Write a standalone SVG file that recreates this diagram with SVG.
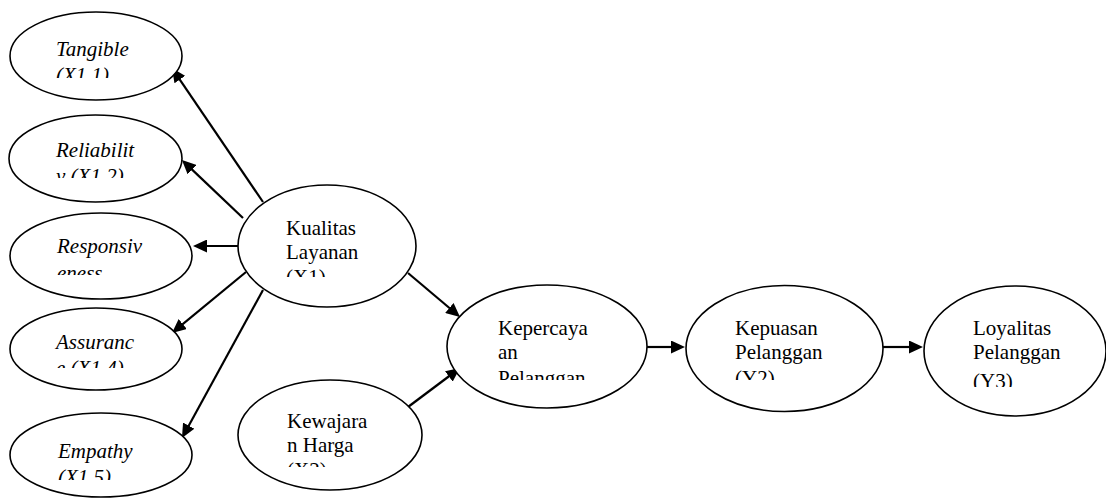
<svg xmlns="http://www.w3.org/2000/svg" width="1106" height="498" viewBox="0 0 1106 498">
<style>
.node ellipse{fill:#fff;stroke:#000;stroke-width:1.6}
text{font-family:'Liberation Serif','Tinos','DejaVu Serif',serif;font-size:21px;fill:#000}
.i{font-style:italic}
.conn line{stroke:#000;stroke-width:2.2;fill:none}
</style>
<defs>
<marker id="ah" markerUnits="userSpaceOnUse" markerWidth="15" markerHeight="13" refX="4" refY="6.5" orient="auto">
<path d="M0,0 L14,6.5 L0,13 z" fill="#000"/>
</marker>
<clipPath id="c1"><rect x="0" y="0" width="300" height="78"/></clipPath>
<clipPath id="c2"><rect x="0" y="100" width="300" height="78"/></clipPath>
<clipPath id="c3"><rect x="0" y="200" width="300" height="75"/></clipPath>
<clipPath id="c4"><rect x="0" y="300" width="300" height="68"/></clipPath>
<clipPath id="c5"><rect x="0" y="400" width="300" height="80"/></clipPath>
<clipPath id="c6"><rect x="230" y="180" width="200" height="97"/></clipPath>
<clipPath id="c7"><rect x="230" y="380" width="200" height="87"/></clipPath>
<clipPath id="c8"><rect x="440" y="280" width="220" height="100"/></clipPath>
<clipPath id="c9"><rect x="680" y="280" width="220" height="100"/></clipPath>
<clipPath id="c10"><rect x="920" y="280" width="186" height="107"/></clipPath>
</defs>
<g class="conn" id="connectors">
<line x1="263" y1="202" x2="177.6" y2="76.3" marker-end="url(#ah)"/>
<line x1="243" y1="218" x2="189.2" y2="166.9" marker-end="url(#ah)"/>
<line x1="238" y1="246" x2="203" y2="246" marker-end="url(#ah)"/>
<line x1="246" y1="272" x2="179.7" y2="326.6" marker-end="url(#ah)"/>
<line x1="263" y1="290" x2="186.8" y2="429.2" marker-end="url(#ah)"/>
<line x1="408" y1="273" x2="452.4" y2="310.5" marker-end="url(#ah)"/>
<line x1="408" y1="407" x2="452" y2="374" marker-end="url(#ah)"/>
<line x1="647" y1="347" x2="675" y2="347" marker-end="url(#ah)"/>
<line x1="883" y1="347" x2="913" y2="347" marker-end="url(#ah)"/>
</g>
<g class="node" id="tangible">
<ellipse cx="96" cy="56" rx="86" ry="44"/>
<text class="i" font-family="Liberation Serif, serif" clip-path="url(#c1)"><tspan x="56" y="55.5">Tangible</tspan><tspan x="56" y="81.5">(X1.1)</tspan></text>
</g>
<g class="node" id="reliability">
<ellipse cx="95.5" cy="158.5" rx="86.5" ry="43.5"/>
<text class="i" font-family="Liberation Serif, serif" clip-path="url(#c2)"><tspan x="56" y="157">Reliabilit</tspan><tspan x="56" y="183">y (X1.2)</tspan></text>
</g>
<g class="node" id="responsiveness">
<ellipse cx="101" cy="256" rx="91" ry="43"/>
<text class="i" font-family="Liberation Serif, serif" clip-path="url(#c3)"><tspan x="57" y="253">Responsiv</tspan><tspan x="57" y="279.5">eness</tspan></text>
</g>
<g class="node" id="assurance">
<ellipse cx="96" cy="349" rx="86" ry="41"/>
<text class="i" font-family="Liberation Serif, serif" clip-path="url(#c4)"><tspan x="56" y="348.5">Assuranc</tspan><tspan x="56" y="374.5">e (X1.4)</tspan></text>
</g>
<g class="node" id="empathy">
<ellipse cx="101" cy="455" rx="91" ry="42"/>
<text class="i" font-family="Liberation Serif, serif" clip-path="url(#c5)"><tspan x="58" y="457.5">Empathy</tspan><tspan x="58" y="484">(X1.5)</tspan></text>
</g>
<g class="node" id="kualitas">
<ellipse cx="327" cy="246" rx="89" ry="61"/>
<text font-family="Liberation Serif, serif" clip-path="url(#c6)"><tspan x="286" y="235">Kualitas</tspan><tspan x="286" y="259">Layanan</tspan><tspan x="286" y="284">(X1)</tspan></text>
</g>
<g class="node" id="kewajaran">
<ellipse cx="330" cy="435" rx="92" ry="55"/>
<text font-family="Liberation Serif, serif" clip-path="url(#c7)"><tspan x="287" y="428">Kewajara</tspan><tspan x="287" y="452">n Harga</tspan><tspan x="287" y="477">(X2)</tspan></text>
</g>
<g class="node" id="kepercayaan">
<ellipse cx="547" cy="346.5" rx="100" ry="61.5"/>
<text font-family="Liberation Serif, serif" clip-path="url(#c8)"><tspan x="498" y="334.5">Kepercaya</tspan><tspan x="498" y="359">an</tspan><tspan x="498" y="385">Pelanggan</tspan></text>
</g>
<g class="node" id="kepuasan">
<ellipse cx="784.5" cy="348.5" rx="98.5" ry="63"/>
<text font-family="Liberation Serif, serif" clip-path="url(#c9)"><tspan x="735" y="335">Kepuasan</tspan><tspan x="735" y="359">Pelanggan</tspan><tspan x="735" y="385">(Y2)</tspan></text>
</g>
<g class="node" id="loyalitas">
<ellipse cx="1015" cy="351" rx="91" ry="65"/>
<text font-family="Liberation Serif, serif" clip-path="url(#c10)"><tspan x="973" y="335">Loyalitas</tspan><tspan x="973" y="359">Pelanggan</tspan><tspan x="973" y="387.5">(Y3)</tspan></text>
</g>
</svg>
